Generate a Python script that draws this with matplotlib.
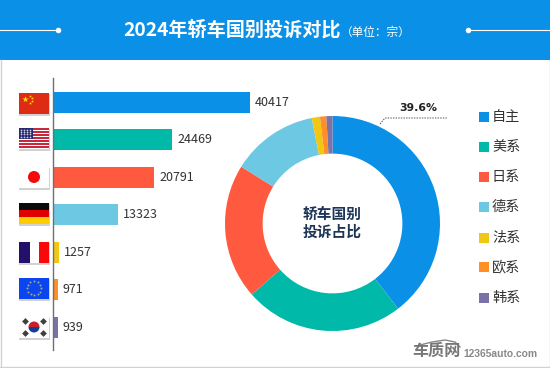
import matplotlib
matplotlib.use("Agg")
import matplotlib.pyplot as plt
import numpy as np
from matplotlib.patches import Rectangle, Circle, Wedge

plt.rcParams['font.family'] = ['Noto Sans CJK SC', 'DejaVu Sans']

# dados
paises = ["中国", "美国", "日本", "德国", "法国", "欧盟", "韩国"]
categorias = ["自主", "美系", "日系", "德系", "法系", "欧系", "韩系"]
valores = [40417, 24469, 20791, 13323, 1257, 971, 939]
cores = ["#0a90e6", "#00b9a9", "#ff5a40", "#6cc8e3", "#f0c814", "#ff8f26", "#7d72a8"]
rotulo_pct = "39.6%"

W, H = 550, 368
fig = plt.figure(figsize=(W / 100, H / 100), dpi=100, facecolor="white")


def eixo_px(x0, y0, x1, y1, **kw):
    # eixo posicionado em pixels da imagem (y para baixo)
    return fig.add_axes([x0 / W, 1 - y1 / H, (x1 - x0) / W, (y1 - y0) / H], **kw)


# camada de fundo em pixels
bg = eixo_px(0, 0, W, H, zorder=0)
bg.set_xlim(0, W)
bg.set_ylim(H, 0)
bg.axis("off")
bg.add_patch(Rectangle((0, 0), W, 60, color="#0a90e6", lw=0))
bg.plot([0, 57], [30, 30], color="white", lw=0.8)
bg.plot([468, 550], [30, 30], color="white", lw=0.8)
bg.scatter([57.5, 468], [30, 30], s=16, color="white", lw=0)
bg.plot([0.5, 0.5], [60, 367], color="#d2d2d2", lw=1)
bg.plot([549.5, 549.5], [60, 367], color="#d2d2d2", lw=1)
bg.plot([0, 550], [366.5, 366.5], color="#d2d2d2", lw=1)

bg.text(123, 30, "2024年轿车国别投诉对比", color="white", fontsize=13.8,
        fontweight="bold", va="center", ha="left")
bg.text(341, 32, "（单位：宗）", color="white", fontsize=8.4, va="center", ha="left")

# barras
ax = eixo_px(53, 78, 250, 350, zorder=2)
ax.patch.set_alpha(0)
y = np.arange(len(valores))
ax.barh(y, valores, height=0.56, color=cores)
ax.set_xlim(0, 40417)
ax.set_ylim(6.6, -0.653)
for i, v in enumerate(valores):
    ax.annotate(str(v), (v, i), xytext=(5, 0), textcoords="offset pixels",
                va="center", ha="left", fontsize=9, color="#333333", annotation_clip=False)
ax.set_xticks([])
ax.set_yticks([])
for lado in ["top", "right", "bottom"]:
    ax.spines[lado].set_visible(False)
ax.spines["left"].set_color("#707070")
ax.spines["left"].set_linewidth(1)


# bandeiras
def sombra(y0):
    bg.add_patch(Rectangle((19, y0 + 1), 31, 21.5, color="#b4b4b4", lw=0, alpha=0.6))
    bg.add_patch(Rectangle((19, y0), 30, 20.5, color="white", lw=0))


def bandeira_china(y0):
    sombra(y0)
    bg.add_patch(Rectangle((19, y0), 30, 20.5, color="#de2c14", lw=0))
    bg.scatter([25], [y0 + 6], marker="*", s=22, color="#ffde00", lw=0)
    bg.scatter([30, 32, 32, 30], [y0 + 3, y0 + 5, y0 + 8, y0 + 10], marker="*", s=5, color="#ffde00", lw=0)


def bandeira_eua(y0):
    sombra(y0)
    for k in range(0, 7):
        bg.add_patch(Rectangle((19, y0 + k * 3), 30, 1.5, color="#c8283c", lw=0))
    bg.add_patch(Rectangle((19, y0), 14, 10.5, color="#2a2a70", lw=0))
    for a in range(4):
        bg.scatter(np.arange(21, 33, 3), [y0 + 2 + a * 2.2] * 4, s=1.5, color="#d0d0e8", lw=0)


def bandeira_japao(y0):
    sombra(y0)
    bg.add_patch(Circle((34, y0 + 10), 6, color="#f40a0a", lw=0))


def bandeira_alemanha(y0):
    sombra(y0)
    for k, c in enumerate(["#0a0a0a", "#e00000", "#ffcc00"]):
        bg.add_patch(Rectangle((19, y0 + k * 20.5 / 3), 30, 20.5 / 3, color=c, lw=0))


def bandeira_franca(y0):
    sombra(y0)
    bg.add_patch(Rectangle((19, y0), 11, 20.5, color="#22106a", lw=0))
    bg.add_patch(Rectangle((39, y0), 10, 20.5, color="#f80808", lw=0))


def bandeira_ue(y0):
    sombra(y0)
    bg.add_patch(Rectangle((19, y0), 30, 20.5, color="#0a46f0", lw=0))
    ang = np.arange(12) * np.pi / 6
    bg.scatter(34 + 7 * np.cos(ang), y0 + 10 + 7 * np.sin(ang), s=2, color="#a8a890", lw=0)


def bandeira_coreia(y0):
    sombra(y0)
    bg.add_patch(Wedge((34, y0 + 10), 5.5, 180, 360, color="#c8202c", lw=0))
    bg.add_patch(Wedge((34, y0 + 10), 5.5, 0, 180, color="#123c96", lw=0))
    bg.scatter([25, 43, 25, 43], [y0 + 4, y0 + 4, y0 + 16, y0 + 16], marker="D", s=12, color="#404040", lw=0)


for fn, y0 in zip([bandeira_china, bandeira_eua, bandeira_japao, bandeira_alemanha,
                   bandeira_franca, bandeira_ue, bandeira_coreia],
                  [93, 128, 167, 203, 242, 278, 317]):
    fn(y0)

# rosca
pie_ax = eixo_px(225, 116, 440, 331, zorder=2)
pie_ax.pie(valores, colors=cores, startangle=90, counterclock=False, radius=1.0,
           wedgeprops=dict(width=0.35, lw=0))
pie_ax.set_xlim(-1, 1)
pie_ax.set_ylim(-1, 1)

# camada de cima
top = eixo_px(0, 0, W, H, zorder=3)
top.patch.set_alpha(0)
top.set_xlim(0, W)
top.set_ylim(H, 0)
top.axis("off")

top.text(332.5, 214, "轿车国别", color="#1d3557", fontsize=10.6, fontweight="bold", ha="center", va="center")
top.text(332.5, 232, "投诉占比", color="#1d3557", fontsize=10.6, fontweight="bold", ha="center", va="center")

top.plot([380, 385, 447], [124, 118, 118], color="#555555", lw=0.7, ls=(0, (1.5, 1.2)))
top.text(418, 108, rotulo_pct, color="#222222", fontsize=7.8, fontweight="bold",
         family="DejaVu Sans", ha="center", va="center")

# legenda
leg_y = [117, 147, 177, 207, 238, 267, 298]
for nome, cor, ly in zip(categorias, cores, leg_y):
    top.add_patch(Rectangle((479, ly - 5), 9.5, 10, color=cor, lw=0))
    top.text(492, ly, nome, color="#333333", fontsize=10.2, va="center", ha="left")

# marca d'água
top.text(436, 351, "车质网", color="#777777", fontsize=11.6, fontweight="bold", ha="center", va="center")
top.text(463, 354, "12365auto.com", color="#888888", fontsize=7.4, fontweight="bold",
         family="Liberation Sans", ha="left", va="center")
top.plot([420, 432, 445, 455, 460], [345, 342, 340, 342, 347], color="#888888", lw=1)

fig.savefig("out.png", dpi=100)
